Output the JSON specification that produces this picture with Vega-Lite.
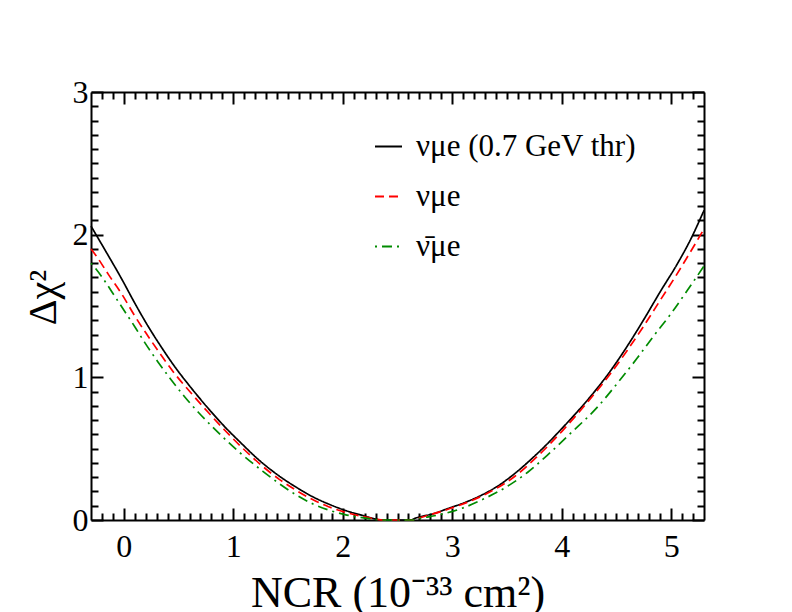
{
  "$schema": "https://vega.github.io/schema/vega-lite/v6.json",
  "width": 613,
  "height": 428,
  "autosize": {"type": "none"},
  "padding": {"left": 91, "top": 92, "right": 88, "bottom": 92},
  "background": "white",
  "config": {
    "view": {"stroke": null},
    "font": "Liberation Serif",
    "axis": {
      "domainColor": "black",
      "domainWidth": 2,
      "tickColor": "black",
      "tickWidth": 2,
      "grid": false,
      "labelFont": "Liberation Serif",
      "labelFontSize": 32,
      "labelColor": "black",
      "titleFont": "Liberation Serif",
      "titleFontWeight": "normal",
      "titleColor": "black",
      "labelOverlap": false,
      "labelFlush": false,
      "zindex": 1
    },
    "legend": {
      "labelFont": "Liberation Serif",
      "labelFontSize": 31,
      "labelColor": "black",
      "labelLimit": 0
    }
  },
  "data": {
    "values": [
      {"s": "νμe (0.7 GeV thr)", "x": -0.3, "y": 2.06},
      {"s": "νμe (0.7 GeV thr)", "x": -0.17, "y": 1.89},
      {"s": "νμe (0.7 GeV thr)", "x": -0.02, "y": 1.69},
      {"s": "νμe (0.7 GeV thr)", "x": 0.1, "y": 1.52},
      {"s": "νμe (0.7 GeV thr)", "x": 0.22, "y": 1.36},
      {"s": "νμe (0.7 GeV thr)", "x": 0.34, "y": 1.215},
      {"s": "νμe (0.7 GeV thr)", "x": 0.46, "y": 1.08},
      {"s": "νμe (0.7 GeV thr)", "x": 0.59, "y": 0.95},
      {"s": "νμe (0.7 GeV thr)", "x": 0.74, "y": 0.81},
      {"s": "νμe (0.7 GeV thr)", "x": 0.92, "y": 0.655},
      {"s": "νμe (0.7 GeV thr)", "x": 1.07, "y": 0.54},
      {"s": "νμe (0.7 GeV thr)", "x": 1.22, "y": 0.43},
      {"s": "νμe (0.7 GeV thr)", "x": 1.42, "y": 0.308},
      {"s": "νμe (0.7 GeV thr)", "x": 1.57, "y": 0.232},
      {"s": "νμe (0.7 GeV thr)", "x": 1.72, "y": 0.165},
      {"s": "νμe (0.7 GeV thr)", "x": 1.87, "y": 0.112},
      {"s": "νμe (0.7 GeV thr)", "x": 2.02, "y": 0.068},
      {"s": "νμe (0.7 GeV thr)", "x": 2.18, "y": 0.032},
      {"s": "νμe (0.7 GeV thr)", "x": 2.3, "y": 0.007},
      {"s": "νμe (0.7 GeV thr)", "x": 2.35, "y": 0},
      {"s": "νμe (0.7 GeV thr)", "x": 2.62, "y": 0},
      {"s": "νμe (0.7 GeV thr)", "x": 2.66, "y": 0.012},
      {"s": "νμe (0.7 GeV thr)", "x": 2.84, "y": 0.047},
      {"s": "νμe (0.7 GeV thr)", "x": 2.96, "y": 0.08},
      {"s": "νμe (0.7 GeV thr)", "x": 3.12, "y": 0.124},
      {"s": "νμe (0.7 GeV thr)", "x": 3.27, "y": 0.175},
      {"s": "νμe (0.7 GeV thr)", "x": 3.42, "y": 0.24},
      {"s": "νμe (0.7 GeV thr)", "x": 3.57, "y": 0.325},
      {"s": "νμe (0.7 GeV thr)", "x": 3.72, "y": 0.425},
      {"s": "νμe (0.7 GeV thr)", "x": 3.87, "y": 0.535},
      {"s": "νμe (0.7 GeV thr)", "x": 4.0, "y": 0.64},
      {"s": "νμe (0.7 GeV thr)", "x": 4.15, "y": 0.765},
      {"s": "νμe (0.7 GeV thr)", "x": 4.3, "y": 0.9},
      {"s": "νμe (0.7 GeV thr)", "x": 4.45, "y": 1.05},
      {"s": "νμe (0.7 GeV thr)", "x": 4.6, "y": 1.22},
      {"s": "νμe (0.7 GeV thr)", "x": 4.75, "y": 1.405},
      {"s": "νμe (0.7 GeV thr)", "x": 4.9, "y": 1.6},
      {"s": "νμe (0.7 GeV thr)", "x": 5.06, "y": 1.8},
      {"s": "νμe (0.7 GeV thr)", "x": 5.18, "y": 1.97},
      {"s": "νμe (0.7 GeV thr)", "x": 5.3, "y": 2.17},

      {"s": "νμe", "x": -0.3, "y": 1.9},
      {"s": "νμe", "x": -0.26, "y": 1.86},
      {"s": "νμe", "x": -0.14, "y": 1.72},
      {"s": "νμe", "x": -0.02, "y": 1.585},
      {"s": "νμe", "x": 0.1, "y": 1.43},
      {"s": "νμe", "x": 0.22, "y": 1.29},
      {"s": "νμe", "x": 0.34, "y": 1.156},
      {"s": "νμe", "x": 0.46, "y": 1.03},
      {"s": "νμe", "x": 0.62, "y": 0.885},
      {"s": "νμe", "x": 0.77, "y": 0.755},
      {"s": "νμe", "x": 0.92, "y": 0.631},
      {"s": "νμe", "x": 1.07, "y": 0.515},
      {"s": "νμe", "x": 1.16, "y": 0.45},
      {"s": "νμe", "x": 1.27, "y": 0.375},
      {"s": "νμe", "x": 1.42, "y": 0.285},
      {"s": "νμe", "x": 1.57, "y": 0.21},
      {"s": "νμe", "x": 1.72, "y": 0.145},
      {"s": "νμe", "x": 1.87, "y": 0.093},
      {"s": "νμe", "x": 2.02, "y": 0.055},
      {"s": "νμe", "x": 2.18, "y": 0.025},
      {"s": "νμe", "x": 2.32, "y": 0.004},
      {"s": "νμe", "x": 2.36, "y": 0},
      {"s": "νμe", "x": 2.64, "y": 0},
      {"s": "νμe", "x": 2.68, "y": 0.01},
      {"s": "νμe", "x": 2.96, "y": 0.075},
      {"s": "νμe", "x": 3.27, "y": 0.168},
      {"s": "νμe", "x": 3.57, "y": 0.305},
      {"s": "νμe", "x": 3.77, "y": 0.44},
      {"s": "νμe", "x": 4.0, "y": 0.62},
      {"s": "νμe", "x": 4.24, "y": 0.83},
      {"s": "νμe", "x": 4.45, "y": 1.03},
      {"s": "νμe", "x": 4.6, "y": 1.19},
      {"s": "νμe", "x": 4.75, "y": 1.36},
      {"s": "νμe", "x": 4.9, "y": 1.54},
      {"s": "νμe", "x": 5.05, "y": 1.72},
      {"s": "νμe", "x": 5.2, "y": 1.91},
      {"s": "νμe", "x": 5.3, "y": 2.04},

      {"s": "ν̄μe", "x": -0.3, "y": 1.8},
      {"s": "ν̄μe", "x": -0.26, "y": 1.765},
      {"s": "ν̄μe", "x": -0.17, "y": 1.67},
      {"s": "ν̄μe", "x": -0.08, "y": 1.565},
      {"s": "ν̄μe", "x": 0.01, "y": 1.46},
      {"s": "ν̄μe", "x": 0.1, "y": 1.355},
      {"s": "ν̄μe", "x": 0.19, "y": 1.245},
      {"s": "ν̄μe", "x": 0.31, "y": 1.11},
      {"s": "ν̄μe", "x": 0.43, "y": 0.985},
      {"s": "ν̄μe", "x": 0.555, "y": 0.864},
      {"s": "ν̄μe", "x": 0.68, "y": 0.755},
      {"s": "ν̄μe", "x": 0.8, "y": 0.66},
      {"s": "ν̄μe", "x": 0.92, "y": 0.57},
      {"s": "ν̄μe", "x": 1.055, "y": 0.475},
      {"s": "ν̄μe", "x": 1.267, "y": 0.343},
      {"s": "ν̄μe", "x": 1.42, "y": 0.255},
      {"s": "ν̄μe", "x": 1.57, "y": 0.178},
      {"s": "ν̄μe", "x": 1.72, "y": 0.115},
      {"s": "ν̄μe", "x": 1.87, "y": 0.07},
      {"s": "ν̄μe", "x": 2.02, "y": 0.038},
      {"s": "ν̄μe", "x": 2.18, "y": 0.016},
      {"s": "ν̄μe", "x": 2.32, "y": 0.002},
      {"s": "ν̄μe", "x": 2.36, "y": 0},
      {"s": "ν̄μe", "x": 2.64, "y": 0},
      {"s": "ν̄μe", "x": 2.7, "y": 0.01},
      {"s": "ν̄μe", "x": 2.9, "y": 0.04},
      {"s": "ν̄μe", "x": 3.09, "y": 0.082},
      {"s": "ν̄μe", "x": 3.28, "y": 0.145},
      {"s": "ν̄μe", "x": 3.48, "y": 0.225},
      {"s": "ν̄μe", "x": 3.69, "y": 0.335},
      {"s": "ν̄μe", "x": 3.87, "y": 0.455},
      {"s": "ν̄μe", "x": 4.08, "y": 0.607},
      {"s": "ν̄μe", "x": 4.33, "y": 0.794},
      {"s": "ν̄μe", "x": 4.51, "y": 0.96},
      {"s": "ν̄μe", "x": 4.69, "y": 1.135},
      {"s": "ν̄μe", "x": 4.84, "y": 1.29},
      {"s": "ν̄μe", "x": 5.0, "y": 1.448},
      {"s": "ν̄μe", "x": 5.15, "y": 1.612},
      {"s": "ν̄μe", "x": 5.3, "y": 1.78}
    ]
  },
  "layer": [
    {
      "mark": {"type": "line", "strokeWidth": 1.7, "interpolate": "monotone"},
      "encoding": {
        "x": {
          "field": "x", "type": "quantitative",
          "scale": {"domain": [-0.3, 5.3], "nice": false, "zero": false},
          "axis": {
            "orient": "bottom",
            "values": [0, 1, 2, 3, 4, 5],
            "tickSize": -12,
            "labelPadding": 23,
            "title": "NCR (10⁻³³ cm²)",
            "titleFontSize": 44,
            "titleBaseline": "alphabetic",
            "titleY": 86
          }
        },
        "y": {
          "field": "y", "type": "quantitative",
          "scale": {"domain": [0, 3], "nice": false},
          "axis": {
            "orient": "left",
            "values": [0, 1, 2, 3],
            "tickSize": -12,
            "labelPadding": 15,
            "title": "Δχ²",
            "titleFontSize": 40,
            "titleBaseline": "alphabetic",
            "titleAlign": "center",
            "titleAngle": 270,
            "titleX": -36,
            "titleY": 205
          }
        },
        "color": {
          "field": "s", "type": "nominal",
          "scale": {"domain": ["νμe (0.7 GeV thr)", "νμe", "ν̄μe"], "range": ["#000000", "#ff0000", "#008b00"]},
          "legend": {
            "title": null,
            "orient": "none",
            "legendX": 282,
            "legendY": 39,
            "symbolType": "stroke",
            "symbolSize": 729,
            "symbolStrokeWidth": 2,
            "rowPadding": 18,
            "labelOffset": 12,
            "padding": 0
          }
        },
        "strokeDash": {
          "field": "s", "type": "nominal",
          "scale": {"domain": ["νμe (0.7 GeV thr)", "νμe", "ν̄μe"], "range": [[1, 0], [9, 5], [2, 5, 10, 5]]},
          "legend": {
            "title": null,
            "orient": "none",
            "legendX": 282,
            "legendY": 39,
            "symbolType": "stroke",
            "symbolSize": 729,
            "symbolStrokeWidth": 2,
            "rowPadding": 18,
            "labelOffset": 12,
            "padding": 0
          }
        }
      }
    },
    {
      "mark": {"type": "line", "opacity": 0},
      "encoding": {
        "x": {
          "field": "x", "type": "quantitative",
          "axis": {
            "orient": "bottom", "domain": false, "labels": false, "title": null, "tickSize": -7,
            "values": [-0.2, -0.1, 0.1, 0.2, 0.3, 0.4, 0.5, 0.6, 0.7, 0.8, 0.9, 1.1, 1.2, 1.3, 1.4, 1.5, 1.6, 1.7, 1.8, 1.9, 2.1, 2.2, 2.3, 2.4, 2.5, 2.6, 2.7, 2.8, 2.9, 3.1, 3.2, 3.3, 3.4, 3.5, 3.6, 3.7, 3.8, 3.9, 4.1, 4.2, 4.3, 4.4, 4.5, 4.6, 4.7, 4.8, 4.9, 5.1, 5.2]
          }
        },
        "y": {
          "field": "y", "type": "quantitative",
          "axis": {
            "orient": "left", "domain": false, "labels": false, "title": null, "tickSize": -7,
            "values": [0.1, 0.2, 0.3, 0.4, 0.5, 0.6, 0.7, 0.8, 0.9, 1.1, 1.2, 1.3, 1.4, 1.5, 1.6, 1.7, 1.8, 1.9, 2.1, 2.2, 2.3, 2.4, 2.5, 2.6, 2.7, 2.8, 2.9]
          }
        }
      }
    },
    {
      "mark": {"type": "line", "opacity": 0},
      "encoding": {
        "x": {
          "field": "x", "type": "quantitative",
          "axis": {"orient": "top", "labels": false, "title": null, "tickSize": -12, "values": [0, 1, 2, 3, 4, 5]}
        },
        "y": {
          "field": "y", "type": "quantitative",
          "axis": {"orient": "right", "labels": false, "title": null, "tickSize": -12, "values": [0, 1, 2, 3]}
        }
      }
    },
    {
      "mark": {"type": "line", "opacity": 0},
      "encoding": {
        "x": {
          "field": "x", "type": "quantitative",
          "axis": {
            "orient": "top", "domain": false, "labels": false, "title": null, "tickSize": -7,
            "values": [-0.2, -0.1, 0.1, 0.2, 0.3, 0.4, 0.5, 0.6, 0.7, 0.8, 0.9, 1.1, 1.2, 1.3, 1.4, 1.5, 1.6, 1.7, 1.8, 1.9, 2.1, 2.2, 2.3, 2.4, 2.5, 2.6, 2.7, 2.8, 2.9, 3.1, 3.2, 3.3, 3.4, 3.5, 3.6, 3.7, 3.8, 3.9, 4.1, 4.2, 4.3, 4.4, 4.5, 4.6, 4.7, 4.8, 4.9, 5.1, 5.2]
          }
        },
        "y": {
          "field": "y", "type": "quantitative",
          "axis": {
            "orient": "right", "domain": false, "labels": false, "title": null, "tickSize": -7,
            "values": [0.1, 0.2, 0.3, 0.4, 0.5, 0.6, 0.7, 0.8, 0.9, 1.1, 1.2, 1.3, 1.4, 1.5, 1.6, 1.7, 1.8, 1.9, 2.1, 2.2, 2.3, 2.4, 2.5, 2.6, 2.7, 2.8, 2.9]
          }
        }
      }
    }
  ],
  "resolve": {"axis": {"x": "independent", "y": "independent"}}
}
